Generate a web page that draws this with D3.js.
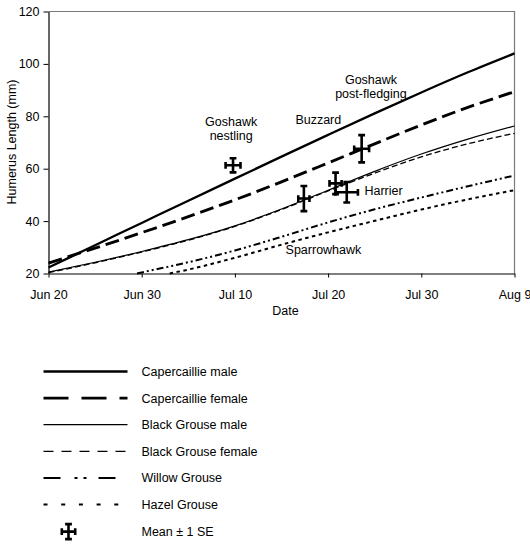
<!DOCTYPE html>
<meta charset="utf-8">
<style>
body { margin: 0; background: #fff; }
text { font-family: "Liberation Sans", Arial, sans-serif; font-size: 12.5px; fill: #000; }
.axis path, .axis line { stroke: #000; }
</style>
<body>
<script src="https://d3js.org/d3.v7.min.js"></script>
<script>

// days after Jun 20
var tickDays = [0, 10, 20, 30, 40, 50];
var tickLabels = ["Jun 20", "Jun 30", "Jul 10", "Jul 20", "Jul 30", "Aug 9"];
var yTicks = [20, 40, 60, 80, 100, 120];

var gridDays = [0, 5, 10, 15, 20, 25, 30, 35, 40, 45, 50];
var capMale = [22.3, 30.8, 39.3, 47.8, 56.2, 64.6, 72.9, 81.1, 89.1, 96.8, 104];
var capFemale = [24, 29.7, 35.6, 41.7, 48.1, 55, 62.2, 69.5, 76.7, 83.4, 89.4];
var bgMale = [20.5, 24.3, 28.4, 32.9, 38.2, 44.6, 51.8, 59, 65.6, 71.3, 76.3];
var bgFemale = [20.3, 24.1, 28.2, 32.7, 38, 44.4, 51.5, 58.3, 64.5, 69.5, 73.5];
var willowDays = [9.5, 10, 15, 20, 25, 30, 35, 40, 45, 50];
var willow = [20, 20.4, 24.3, 28.8, 34, 39.5, 44.5, 49, 53.3, 57.4];
var hazelDays = [13, 15, 20, 25, 30, 35, 40, 45, 50];
var hazel = [20, 21.5, 26, 31, 35.7, 40.1, 44.4, 48.3, 51.8];

// predator means +- 1 SE
var crossDays = [19.8, 27.4, 30.8, 32.0, 33.6];
var crossMeans = [61.3, 48.6, 54.4, 51.0, 67.6];
var crossSeY = [2.7, 4.8, 4.1, 3.9, 5.2];
var crossSeX = [0.8, 0.6, 0.65, 1.2, 0.8];

var margin = {top: 11.5, right: 15.5, bottom: 276.5, left: 48.5},
    width = 530 - margin.left - margin.right,
    height = 550 - margin.top - margin.bottom;

var svg = d3.select("body").append("svg")
    .attr("width", 530)
    .attr("height", 550);

var g = svg.append("g")
    .attr("transform", "translate(" + margin.left + "," + margin.top + ")");

var x = d3.scaleLinear().domain([0, 50]).range([0, width]);
var y = d3.scaleLinear().domain([20, 120]).range([height, 0]);

// grey frame top and right
g.append("path")
    .attr("d", "M0,0H" + width + "V" + height)
    .attr("fill", "none")
    .attr("stroke", "#7a7a7a")
    .attr("stroke-width", 1.2);

g.append("g")
    .attr("class", "axis")
    .call(d3.axisLeft(y).tickValues(yTicks).tickSize(5).tickSizeOuter(0).tickPadding(4))
    .selectAll("text").style("font-size", "12.5px").style("font-family", null);

g.append("g")
    .attr("class", "axis")
    .attr("transform", "translate(0," + height + ")")
    .call(d3.axisBottom(x).tickValues(tickDays).tickSize(4).tickSizeOuter(0).tickPadding(13)
        .tickFormat(function(d, i) { return tickLabels[i]; }))
    .selectAll("text").style("font-size", "12.5px").style("font-family", null);

g.selectAll(".axis .domain").attr("stroke-width", 1.2);

var series = [
  {name: "Capercaillie male", days: gridDays, vals: capMale, w: 2.3, dash: null, leg: null},
  {name: "Capercaillie female", days: gridDays, vals: capFemale, w: 2.9, dash: "14,6", leg: "25,13"},
  {name: "Black Grouse male", days: gridDays, vals: bgMale, w: 1.2, dash: null, leg: null},
  {name: "Black Grouse female", days: gridDays, vals: bgFemale, w: 1.3, dash: "6,3", leg: "10,8"},
  {name: "Willow Grouse", days: willowDays, vals: willow, w: 2, dash: "7,3,2,3,2,3", leg: "17,14,3,6,3,12"},
  {name: "Hazel Grouse", days: hazelDays, vals: hazel, w: 2, dash: "3.5,3.5", leg: "4,13.7"}
];

var line = d3.line()
    .x(function(d) { return x(d[0]); })
    .y(function(d) { return y(d[1]); })
    .curve(d3.curveMonotoneX);

series.forEach(function(s) {
  var pts = s.days.map(function(d, i) { return [d, s.vals[i]]; });
  g.append("path")
      .datum(pts)
      .attr("d", line)
      .attr("fill", "none")
      .attr("stroke", "#000")
      .attr("stroke-width", s.w)
      .attr("stroke-dasharray", s.dash);
});

function crossMark(sel, cx, cy, x0, x1, y0, y1) {
  var cap = 3.4;
  sel.append("path")
      .attr("d",
        "M" + cx + "," + y0 + "V" + y1 +
        "M" + (cx - cap) + "," + y0 + "H" + (cx + cap) +
        "M" + (cx - cap) + "," + y1 + "H" + (cx + cap) +
        "M" + x0 + "," + cy + "H" + x1 +
        "M" + x0 + "," + (cy - cap) + "V" + (cy + cap) +
        "M" + x1 + "," + (cy - cap) + "V" + (cy + cap))
      .attr("fill", "none")
      .attr("stroke", "#000")
      .attr("stroke-width", 2.6);
}

crossDays.forEach(function(d, i) {
  crossMark(g, x(d), y(crossMeans[i]),
    x(d - crossSeX[i]), x(d + crossSeX[i]),
    y(crossMeans[i] + crossSeY[i]), y(crossMeans[i] - crossSeY[i]));
});

// predator labels
var labels = [
  {lines: ["Goshawk", "nestling"], day: 19.6, mm: 76.3, anchor: "middle"},
  {lines: ["Goshawk", "post-fledging"], day: 34.6, mm: 92.3, anchor: "middle"},
  {lines: ["Buzzard"], day: 28.95, mm: 77.05, anchor: "middle"},
  {lines: ["Harrier"], day: 33.9, mm: 49.9, anchor: "start"},
  {lines: ["Sparrowhawk"], day: 29.5, mm: 27.4, anchor: "middle"}
];

labels.forEach(function(l) {
  var t = g.append("text")
      .attr("x", x(l.day))
      .attr("y", y(l.mm))
      .attr("text-anchor", l.anchor);
  l.lines.forEach(function(s, i) {
    t.append("tspan")
        .attr("x", x(l.day))
        .attr("dy", i === 0 ? 0 : 14)
        .text(s);
  });
});

g.append("text")
    .attr("x", width / 2 + 4)
    .attr("y", height + 41)
    .attr("text-anchor", "middle")
    .text("Date");

svg.append("text")
    .attr("transform", "translate(16,142) rotate(-90)")
    .attr("text-anchor", "middle")
    .text("Humerus Length (mm)");

// legend
var legend = svg.append("g").attr("transform", "translate(43.5,371.5)");
var rowH = 26.6;

series.forEach(function(s, i) {
  var row = legend.append("g").attr("transform", "translate(0," + (i * rowH) + ")");
  row.append("line")
      .attr("x1", 0).attr("x2", 84)
      .attr("stroke", "#000")
      .attr("stroke-width", s.w)
      .attr("stroke-dasharray", s.leg);
  row.append("text")
      .attr("x", 98)
      .attr("y", 4.5)
      .text(s.name);
});

var seRow = legend.append("g").attr("transform", "translate(0," + (6 * rowH + 0.5) + ")");
crossMark(seRow, 25, 0, 18.3, 31.7, -7.5, 7.5);
seRow.append("text")
    .attr("x", 98)
    .attr("y", 4.5)
    .text("Mean \u00b1 1 SE");

</script>
</body>
